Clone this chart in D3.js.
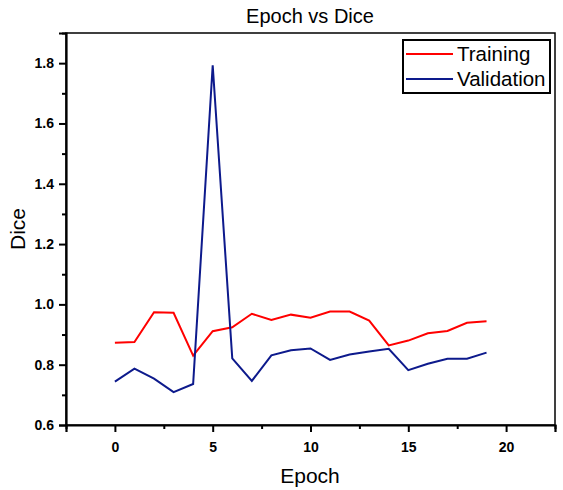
<!DOCTYPE html>
<html>
<head>
<meta charset="utf-8">
<script src="https://cdn.jsdelivr.net/npm/d3@7"></script>
<style>
  body { margin: 0; background: #fff; }
  svg { font-family: "Liberation Sans", Arial, sans-serif; }
</style>
</head>
<body>
<svg width="563" height="490"></svg>
<script>
const epochs = d3.range(0, 20);
const training = [0.873, 0.875, 0.974, 0.972, 0.830, 0.911, 0.924, 0.969, 0.948, 0.966,
                  0.956, 0.976, 0.976, 0.946, 0.864, 0.880, 0.904, 0.912, 0.939, 0.944];
const validation = [0.744, 0.787, 0.754, 0.709, 0.736, 1.793, 0.821, 0.746, 0.831, 0.848,
                    0.854, 0.816, 0.834, 0.844, 0.853, 0.782, 0.803, 0.820, 0.820, 0.840];
const xTicks = [0, 5, 10, 15, 20];
const yTicks = [0.6, 0.8, 1.0, 1.2, 1.4, 1.6, 1.8];
const seriesNames = ["Training", "Validation"];
const seriesColors = ["#ff0000", "#0d1a8c"];

const svg = d3.select("svg");
const margin = { top: 33, right: 8, bottom: 65, left: 66 };
const width = 563 - margin.left - margin.right;
const height = 490 - margin.top - margin.bottom;

const x = d3.scaleLinear().domain([-2.5, 22.5]).range([margin.left, margin.left + width]);
const y = d3.scaleLinear().domain([0.6, 1.9]).range([margin.top + height, margin.top]);

// frame (top + right)
svg.append("rect")
  .attr("x", margin.left).attr("y", margin.top)
  .attr("width", width).attr("height", height)
  .attr("fill", "none").attr("stroke", "#000").attr("stroke-width", 1.5);

// minor ticks
const xMinor = d3.axisBottom(x).tickValues([-2.5, 2.5, 7.5, 12.5, 17.5, 22.5]).tickSize(4).tickFormat("");
const yMinor = d3.axisLeft(y).tickValues([0.7, 0.9, 1.1, 1.3, 1.5, 1.7, 1.9]).tickSize(4).tickFormat("");

svg.append("g").attr("transform", `translate(0,${margin.top + height})`).call(xMinor)
  .call(g => g.select(".domain").remove())
  .selectAll("line").attr("stroke-width", 2);
svg.append("g").attr("transform", `translate(${margin.left},0)`).call(yMinor)
  .call(g => g.select(".domain").remove())
  .selectAll("line").attr("stroke-width", 2);

const xAxis = svg.append("g")
  .attr("transform", `translate(0,${margin.top + height})`)
  .call(d3.axisBottom(x).tickValues(xTicks).tickSize(7).tickPadding(10).tickFormat(d3.format("d")));
const yAxis = svg.append("g")
  .attr("transform", `translate(${margin.left},0)`)
  .call(d3.axisLeft(y).tickValues(yTicks).tickSize(7).tickPadding(5).tickFormat(d3.format(".1f")));

[xAxis, yAxis].forEach(a => {
  a.select(".domain").attr("stroke-width", 2.2);
  a.selectAll(".tick line").attr("stroke-width", 2);
  a.selectAll("text")
    .attr("font-family", "Liberation Sans, Arial, sans-serif")
    .attr("font-size", 14).attr("font-weight", "bold").attr("fill", "#000");
});

// lines
const line = d3.line().x((d, i) => x(epochs[i])).y(d => y(d));
[training, validation].forEach((s, k) => {
  svg.append("path")
    .datum(s)
    .attr("fill", "none")
    .attr("stroke", seriesColors[k])
    .attr("stroke-width", 2)
    .attr("stroke-linejoin", "miter")
    .attr("d", line);
});

// title and axis labels
svg.append("text")
  .attr("x", 310).attr("y", 23)
  .attr("text-anchor", "middle")
  .attr("font-size", 20)
  .text("Epoch vs Dice");

svg.append("text")
  .attr("x", 310).attr("y", 483)
  .attr("text-anchor", "middle")
  .attr("font-size", 21)
  .text("Epoch");

svg.append("text")
  .attr("transform", "translate(25,229) rotate(-90)")
  .attr("text-anchor", "middle")
  .attr("font-size", 21)
  .text("Dice");

// legend
const legend = svg.append("g");
legend.append("rect")
  .attr("x", 403).attr("y", 40)
  .attr("width", 147).attr("height", 53)
  .attr("fill", "#fff").attr("stroke", "#000").attr("stroke-width", 2);

seriesNames.forEach((name, i) => {
  const ly = 54 + i * 25;
  legend.append("line")
    .attr("x1", 406).attr("x2", 453)
    .attr("y1", ly).attr("y2", ly)
    .attr("stroke", seriesColors[i]).attr("stroke-width", 2);
  legend.append("text")
    .attr("x", 457).attr("y", ly + 7)
    .attr("font-size", 20.5)
    .text(name);
});
</script>
</body>
</html>
